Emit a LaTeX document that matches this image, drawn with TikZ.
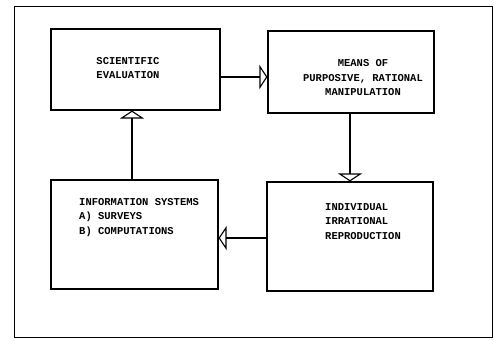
\documentclass[tikz,border=0pt]{standalone}
\usepackage{fontspec}
\newfontfamily\typew{Liberation Mono}
\usetikzlibrary{arrows.meta}
\begin{document}
\begin{tikzpicture}[x=1pt,y=1pt,
  box/.style={draw,line width=1.1pt,minimum width=#1,inner sep=0pt},
  lbl/.style={font=\typew\bfseries\fontsize{10.5}{14.5}\selectfont,inner sep=0pt},
  conn/.style={line width=1.1pt,-{Triangle[open,width=24pt,length=8pt,line width=1.1pt]}}]
\useasboundingbox (0,0) rectangle (494,340);
\node[draw,line width=1pt,minimum width=478pt,minimum height=330pt,inner sep=0pt] (frame) at (253,168) {};
\node[box=169pt,minimum height=81pt] (SE) at (135.5,270.5) {};
\node[box=166pt,minimum height=82pt] (MP) at (351,268) {};
\node[box=167pt,minimum height=109pt] (IS) at (134.5,105.5) {};
\node[box=166pt,minimum height=109pt] (IR) at (350,103.5) {};
\node[lbl,align=center] (tSE) at (128,272) {SCIENTIFIC\\EVALUATION};
\node[lbl,align=center] (tMP) at (363,262) {MEANS OF\\PURPOSIVE, RATIONAL\\MANIPULATION};
\node[lbl,align=left,anchor=west] (tIS) at (79,122.5) {INFORMATION SYSTEMS\\A) SURVEYS\\B) COMPUTATIONS};
\node[lbl,align=left,anchor=west] (tIR) at (325,118.5) {INDIVIDUAL\\IRRATIONAL\\REPRODUCTION};
\draw[conn] (SE.east |- 0,263) -- (MP.west |- 0,263);
\draw[conn] (MP.south -| 350,0) -- (IR.north);
\draw[conn] (IR.west |- 0,102) -- (IS.east |- 0,102);
\draw[conn] (IS.north -| 132,0) -- (SE.south -| 132,0);
\end{tikzpicture}
\end{document}
